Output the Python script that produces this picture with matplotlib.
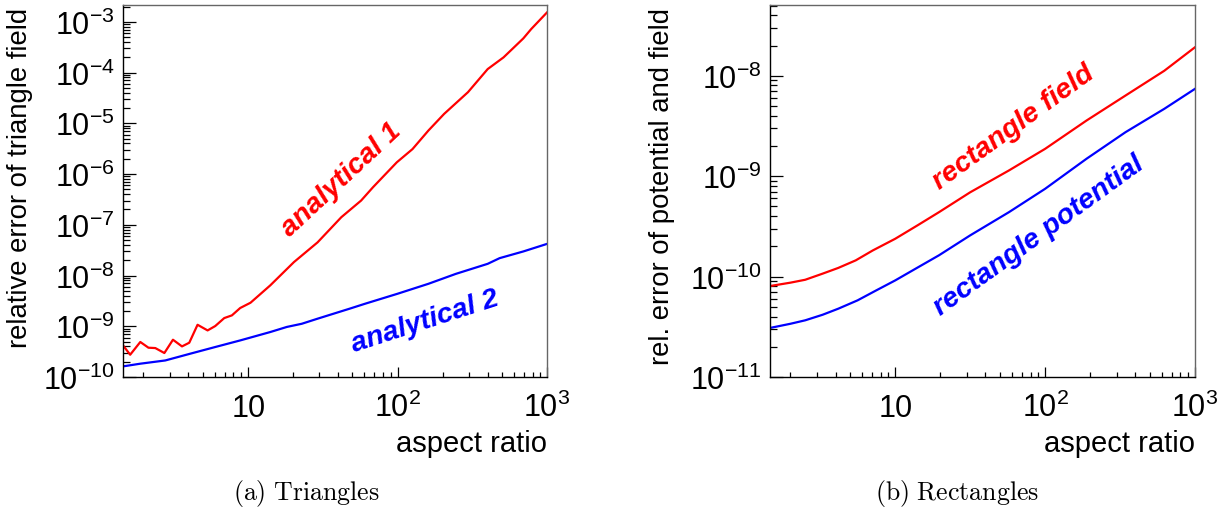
"""
Relative error of the analytical field / potential integrals for
triangles and rectangles, as a function of the element aspect ratio.
"""
import numpy as np

import matplotlib
matplotlib.use("Agg")

import matplotlib.pyplot as plt
from matplotlib.ticker import LogLocator, FuncFormatter, NullFormatter

plt.rcParams['font.family'] = 'Liberation Sans'
plt.rcParams['mathtext.fontset'] = 'cm'

# (a) triangles
tri_ana1_x = [1.46, 1.63, 1.905, 2.16, 2.40, 2.76, 3.15, 3.62, 4.05, 4.60,
              5.37, 6.04, 6.94, 7.81, 8.87, 10.4, 14.1, 20.3, 29.2, 42.1,
              57.1, 68.6, 98.9, 126, 161, 205, 296, 401, 512, 694, 784, 1000]
tri_ana1_y = [4.2e-10, 2.75e-10, 4.9e-10, 3.78e-10, 3.72e-10, 2.97e-10,
              5.43e-10, 4.01e-10, 4.74e-10, 1.07e-9, 8.28e-10, 1.01e-9,
              1.45e-9, 1.64e-9, 2.29e-9, 2.91e-9, 6.4e-9, 1.84e-8, 4.5e-8,
              1.41e-7, 3.0e-7, 5.5e-7, 1.7e-6, 3.1e-6, 7.2e-6, 1.53e-5,
              4.1e-5, 1.17e-4, 1.99e-4, 4.7e-4, 7.2e-4, 1.53e-3]

tri_ana2_x = [1.46, 1.905, 2.8, 4.11, 6.04, 8.87, 14.1, 18.2, 22.9, 29.2,
              47.6, 60.7, 100, 161, 246, 401, 482, 694, 1000]
tri_ana2_y = [1.62e-10, 1.83e-10, 2.12e-10, 2.88e-10, 3.9e-10, 5.26e-10,
              7.7e-10, 9.7e-10, 1.12e-9, 1.41e-9, 2.21e-9, 2.78e-9, 4.37e-9,
              6.87e-9, 1.08e-8, 1.70e-8, 2.2e-8, 2.98e-8, 4.2e-8]

# (b) rectangles
rect_field_x = [1.46, 2.0, 2.51, 3.28, 4.17, 5.45, 7.08, 10, 14.1, 19.6,
                31.6, 57.4, 100, 189, 344, 624, 1000]
rect_field_y = [8.05e-11, 8.7e-11, 9.3e-11, 1.07e-10, 1.22e-10, 1.45e-10,
                1.82e-10, 2.38e-10, 3.24e-10, 4.38e-10, 6.9e-10, 1.14e-9,
                1.87e-9, 3.58e-9, 6.35e-9, 1.12e-8, 1.92e-8]
rect_pot_x = [1.46, 2.0, 2.51, 3.28, 4.17, 5.61, 7.41, 10, 14.1, 19.6,
              31.6, 57.4, 100, 189, 344, 624, 1000]
rect_pot_y = [3.08e-11, 3.39e-11, 3.67e-11, 4.17e-11, 4.79e-11, 5.8e-11,
              7.24e-11, 9.16e-11, 1.23e-10, 1.63e-10, 2.57e-10, 4.38e-10,
              7.48e-10, 1.49e-9, 2.74e-9, 4.68e-9, 7.4e-9]

_XLIM = (1.46, 1000)
_XTICKS = [10, 100, 1000]
_RED = '#ff0000'
_BLUE = '#0000ff'


def pow10(value, pos):
  """Tick labels in the 10^n style, with a plain 10 for the first decade."""
  exp = int(round(np.log10(value)))
  if exp == 1:
    return r'$\mathregular{10}$'
  return r'$\mathregular{10^{%d}}$' % exp


def style_axes(axs, ylim, yticks, ylabel, ylabel_x):
  """ROOT-like frame: ticks inside, on the left and bottom only."""
  axs.set_xscale('log')
  axs.set_yscale('log')
  axs.set_xlim(*_XLIM)
  axs.set_ylim(*ylim)

  axs.set_xticks(_XTICKS)
  axs.set_yticks(yticks)
  for axis in (axs.xaxis, axs.yaxis):
    axis.set_major_formatter(FuncFormatter(pow10))
    axis.set_minor_locator(LogLocator(base=10, subs=np.arange(2, 10),
                                      numticks=100))
    axis.set_minor_formatter(NullFormatter())

  axs.tick_params(which='both', direction='in', top=False, right=False,
                  width=0.9, color='black', labelsize=22)
  axs.tick_params(axis='x', which='major', length=7, pad=28)
  axs.tick_params(axis='x', which='minor', length=3.8)
  axs.tick_params(axis='y', which='major', length=9, pad=6)
  axs.tick_params(axis='y', which='minor', length=4.8)
  for tick in axs.xaxis.get_major_ticks():
    tick.label1.set_verticalalignment('baseline')

  for side in ('left', 'bottom'):
    axs.spines[side].set_color('black')
    axs.spines[side].set_linewidth(1.0)
  for side in ('top', 'right'):
    axs.spines[side].set_color('#666666')
    axs.spines[side].set_linewidth(1.0)

  axs.set_xlabel('aspect ratio', fontsize=21, loc='right')
  axs.xaxis.set_label_coords(1.0, -0.14)
  axs.xaxis.label.set_verticalalignment('top')
  axs.set_ylabel(ylabel, fontsize=19.8, loc='top')
  axs.yaxis.set_label_coords(ylabel_x, 0.995)


def draw_graph():
  figure = plt.figure(figsize=(12.29, 5.10), dpi=100)
  ax_tri = figure.add_axes([0.1001, 0.2588, 0.3450, 0.7294])
  ax_rect = figure.add_axes([0.6265, 0.2588, 0.3458, 0.7294])

  ax_tri.plot(tri_ana1_x, tri_ana1_y, color=_RED, linewidth=1.6)
  ax_tri.plot(tri_ana2_x, tri_ana2_y, color=_BLUE, linewidth=1.6)
  style_axes(ax_tri, (1e-10, 2.14e-3), [10.0 ** e for e in range(-10, -2)],
             'relative error of triangle field', -0.212)
  ax_tri.text(0.514, 0.532, 'analytical 1', transform=ax_tri.transAxes,
              color=_RED, fontsize=20.5, fontweight='bold', fontstyle='italic',
              rotation=43, ha='center', va='center', rotation_mode='anchor')
  ax_tri.text(0.712, 0.151, 'analytical 2', transform=ax_tri.transAxes,
              color=_BLUE, fontsize=20.5, fontweight='bold',
              fontstyle='italic', rotation=18, ha='center', va='center',
              rotation_mode='anchor')

  ax_rect.plot(rect_field_x, rect_field_y, color=_RED, linewidth=1.6)
  ax_rect.plot(rect_pot_x, rect_pot_y, color=_BLUE, linewidth=1.6)
  style_axes(ax_rect, (1e-11, 5.06e-8), [10.0 ** e for e in range(-11, -7)],
             'rel. error of potential and field', -0.2235)
  ax_rect.text(0.572, 0.672, 'rectangle field', transform=ax_rect.transAxes,
               color=_RED, fontsize=20.5, fontweight='bold',
               fontstyle='italic', rotation=36, ha='center', va='center',
               rotation_mode='anchor')
  ax_rect.text(0.633, 0.382, 'rectangle potential',
               transform=ax_rect.transAxes, color=_BLUE, fontsize=20.5,
               fontweight='bold', fontstyle='italic', rotation=36,
               ha='center', va='center', rotation_mode='anchor')

  figure.text(0.2494, 0.0333, r'$\mathrm{(a)\ Triangles}$', fontsize=18.6,
              ha='center', va='center')
  figure.text(0.7783, 0.0333, r'$\mathrm{(b)\ Rectangles}$', fontsize=18.6,
              ha='center', va='center')

  figure.savefig('out.png', dpi=100)
  plt.close(figure)


if __name__ == "__main__":
  draw_graph()
